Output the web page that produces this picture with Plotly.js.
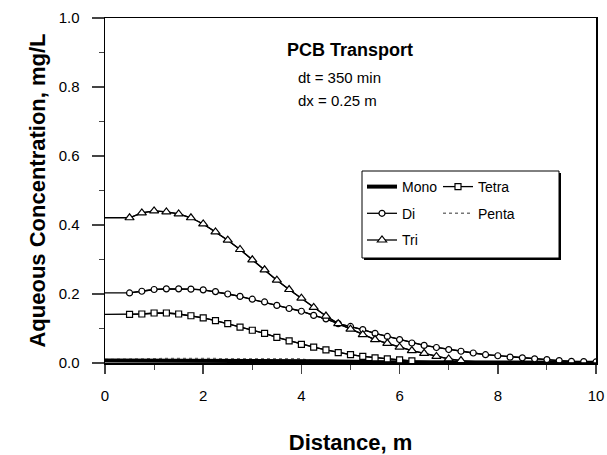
<!DOCTYPE html>
<html>
<head>
<meta charset="utf-8">
<script src="https://cdn.plot.ly/plotly-3.0.1.min.js"></script>
<style>html,body{margin:0;padding:0;background:#fff;}#chart{width:607px;height:455px;}</style>
</head>
<body>
<div id="chart"></div>
<script>
// Distance along column, m
const distance = [0,0.25,0.5,0.75,1,1.25,1.5,1.75,2,2.25,2.5,2.75,3,3.25,3.5,3.75,4,4.25,4.5,4.75,5,5.25,5.5,5.75,6,6.25,6.5,6.75,7,7.25,7.5,7.75,8,8.25,8.5,8.75,9,9.25,9.5,9.75,10];
// Aqueous concentration, mg/L
const mono  = [0.007,0.007,0.007,0.007,0.007,0.007,0.007,0.007,0.007,0.007,0.007,0.007,0.007,0.007,0.007,0.007,0.007,0.006,0.005,0.004,0.003,0.003,0.002,0.002,0.002,0.002,0.002,0.001,0.001,0.001,0.001,0.001,0.001,0.001,0.001,0.001,0.001,0.001,0.001,0.001,0.001];
const di    = [0.203,0.203,0.203,0.208,0.213,0.215,0.215,0.214,0.212,0.207,0.200,0.193,0.185,0.177,0.167,0.158,0.150,0.138,0.128,0.114,0.106,0.097,0.086,0.077,0.068,0.058,0.051,0.045,0.039,0.034,0.029,0.024,0.021,0.017,0.015,0.012,0.010,0.007,0.005,0.004,0.003];
const tri   = [0.421,0.421,0.421,0.435,0.441,0.438,0.432,0.421,0.403,0.380,0.356,0.329,0.299,0.270,0.240,0.213,0.188,0.161,0.136,0.114,0.098,0.082,0.068,0.057,0.046,0.036,0.028,0.019,0.012,0.007,0.004,0.002,0.001,0.001,0,0,0,0,0,0,0];
const tetra = [0.141,0.141,0.141,0.142,0.145,0.145,0.142,0.137,0.131,0.123,0.114,0.104,0.095,0.086,0.074,0.064,0.054,0.046,0.038,0.030,0.024,0.019,0.015,0.012,0.009,0.006,0.004,0.003,0.002,0.001,0.001,0.001,0.001,0,0,0,0,0,0,0,0];
const penta = [0.010,0.011,0.012,0.012,0.013,0.013,0.013,0.013,0.013,0.013,0.013,0.013,0.013,0.013,0.013,0.013,0.012,0.006,0.002,0.001,0,0,0,0,0,0,0,0,0,0,0,0,0,0,0,0,0,0,0,0,0];
// range of x where each series shows symbols
const markerFrom = 0.5;
const markerTo = {Di: 10, Tri: 7.25, Tetra: 6.25};

const FONT = 'Liberation Sans, Arial, Helvetica, sans-serif';
const lineStyle = {color: '#000', width: 1.3};

function subset(xs, ys, lo, hi) {
  const ox = [], oy = [];
  xs.forEach((v, i) => { if (v >= lo - 1e-9 && v <= hi + 1e-9) { ox.push(v); oy.push(ys[i]); } });
  return {x: ox, y: oy};
}

function markedSeries(name, ys, symbol, size, legend) {
  const s = subset(distance, ys, markerFrom, markerTo[name]);
  return [
    {x: distance, y: ys, type: 'scatter', mode: 'lines', line: lineStyle,
     showlegend: false, legendgroup: name, legend: legend, hoverinfo: 'skip'},
    {x: s.x, y: s.y, type: 'scatter', mode: 'lines+markers', name: name,
     line: lineStyle, legendgroup: name, legend: legend,
     marker: {symbol: symbol, size: size, color: '#fff', line: {color: '#000', width: 1.2}}}
  ];
}

const traces = [
  {x: distance, y: penta, type: 'scatter', mode: 'lines', name: 'Penta', legendgroup: 'Penta', legend: 'legend2',
   line: {color: '#777', width: 1.5, dash: 'dot'}},
  {x: distance, y: mono, type: 'scatter', mode: 'lines', name: 'Mono', legendgroup: 'Mono', legend: 'legend',
   line: {color: '#000', width: 4}},
  ...markedSeries('Tetra', tetra, 'square', 6, 'legend2'),
  ...markedSeries('Di', di, 'circle', 6, 'legend'),
  ...markedSeries('Tri', tri, 'triangle-up', 8, 'legend')
];
// legend ranks
traces.forEach(t => {
  const order = {Mono: 1, Di: 2, Tri: 3, Tetra: 1, Penta: 2};
  if (t.name) t.legendrank = order[t.name];
});

const px = p => (p - 105) / 491;
const py = p => (363 - p) / 345;

const legendBase = {
  bgcolor: 'rgba(0,0,0,0)', borderwidth: 0, font: {family: FONT, size: 14, color: '#000'},
  xanchor: 'left', yanchor: 'top', tracegroupgap: 5.5, itemwidth: 30, traceorder: 'grouped'
};

const layout = {
  width: 607, height: 455,
  margin: {l: 105, r: 11, t: 18, b: 92},
  paper_bgcolor: '#fff', plot_bgcolor: '#fff',
  font: {family: FONT, color: '#000'},
  showlegend: true,
  xaxis: {
    range: [0, 10], tick0: 0, dtick: 2, ticks: 'outside', ticklen: 9, tickwidth: 1.5,
    minor: {dtick: 1, ticks: 'outside', ticklen: 5, tickwidth: 1},
    showline: true, linewidth: 1.5, linecolor: '#000', mirror: true,
    showgrid: false, zeroline: false, ticklabelstandoff: 9,
    tickfont: {family: FONT, size: 15, color: '#000'},
    title: {text: '<b>Distance, m</b>', font: {family: FONT, size: 22, color: '#000'}, standoff: 40}
  },
  yaxis: {
    range: [0, 1], tick0: 0, dtick: 0.2, tickformat: '.1f', ticks: 'outside', ticklen: 12, tickwidth: 1.5,
    minor: {dtick: 0.1, ticks: 'outside', ticklen: 5, tickwidth: 1},
    showline: true, linewidth: 1.5, linecolor: '#000', mirror: true,
    showgrid: false, zeroline: false, ticklabelstandoff: 9,
    tickfont: {family: FONT, size: 15, color: '#000'},
    title: {text: '<b>Aqueous Concentration, mg/L</b>', font: {family: FONT, size: 22, color: '#000'}, standoff: 7}
  },
  legend: Object.assign({}, legendBase, {x: px(362), y: py(171)}),
  legend2: Object.assign({}, legendBase, {x: px(438), y: py(171)}),
  shapes: [
    {type: 'rect', xref: 'paper', yref: 'paper', x0: px(364), x1: px(561), y0: py(260), y1: py(173),
     fillcolor: '#000', line: {width: 0}},
    {type: 'rect', xref: 'paper', yref: 'paper', x0: px(362), x1: px(559), y0: py(258), y1: py(171),
     fillcolor: '#fff', line: {color: '#000', width: 1}}
  ],
  annotations: [
    {text: '<b>PCB Transport</b>', xref: 'paper', yref: 'paper', x: px(285), y: py(50),
     xanchor: 'left', yanchor: 'middle', showarrow: false, font: {family: FONT, size: 18, color: '#000'}},
    {text: 'dt = 350 min', xref: 'paper', yref: 'paper', x: px(296), y: py(77),
     xanchor: 'left', yanchor: 'middle', showarrow: false, font: {family: FONT, size: 15, color: '#000'}},
    {text: 'dx = 0.25 m', xref: 'paper', yref: 'paper', x: px(296), y: py(100),
     xanchor: 'left', yanchor: 'middle', showarrow: false, font: {family: FONT, size: 15, color: '#000'}}
  ]
};

Plotly.newPlot('chart', traces, layout, {displayModeBar: false, staticPlot: true});
</script>
</body>
</html>
